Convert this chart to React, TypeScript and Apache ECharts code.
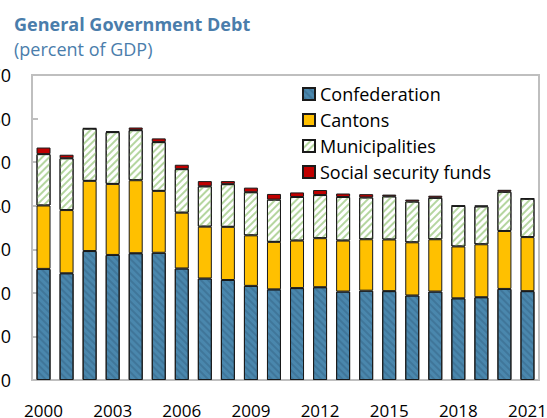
import React, { useEffect, useRef } from "react";
import * as echarts from "echarts";

const years = ["2000","2001","2002","2003","2004","2005","2006","2007","2008","2009","2010","2011","2012","2013","2014","2015","2016","2017","2018","2019","2020","2021"];
const confederation = [25.5, 24.5, 29.6, 28.7, 29.1, 29.2, 25.6, 23.3, 22.95, 21.6, 20.8, 21.1, 21.3, 20.3, 20.5, 20.4, 19.4, 20.3, 18.75, 19.0, 20.9, 20.4];
const cantons = [14.55, 14.5, 16.1, 16.3, 16.75, 14.2, 12.8, 11.9, 12.2, 11.6, 10.9, 10.9, 11.25, 11.7, 11.8, 11.85, 12.2, 12.0, 11.9, 12.15, 13.3, 12.4];
const municipalities = [11.8, 11.9, 12.0, 11.9, 11.5, 11.2, 10.0, 9.25, 9.8, 9.9, 9.7, 10.0, 9.9, 10.0, 9.6, 9.9, 9.35, 9.5, 9.3, 8.7, 9.0, 8.8];
const socialSecurity = [1.5, 0.8, 0.1, 0.2, 0.6, 0.85, 1.0, 1.2, 0.7, 1.05, 1.3, 1.05, 1.15, 0.8, 0.75, 0.4, 0.45, 0.5, 0.1, 0.2, 0.45, 0.1];

const FONT = "'Open Sans', 'Noto Sans', sans-serif";

export default function App() {
  const ref = useRef<HTMLDivElement>(null);
  useEffect(() => {
    if (!ref.current) return;
    const chart = echarts.init(ref.current, null, { renderer: "svg" });
    const border = { borderColor: "#1a1a1a", borderWidth: 1 };
    const mk = (name: string, data: number[], style: any) => ({
      name,
      type: "bar",
      stack: "debt",
      data,
      barWidth: 14,
      itemStyle: { ...border, ...style },
      emphasis: { disabled: true },
    });
    chart.setOption({
      animation: false,
      backgroundColor: "#ffffff",
      textStyle: { fontFamily: FONT },
      title: {
        text: "General Government Debt",
        subtext: "(percent of GDP)",
        left: 9,
        top: 9,
        itemGap: 5,
        textStyle: { fontFamily: FONT, fontSize: 18, fontWeight: "bold", color: "#4a7dab", lineHeight: 20 },
        subtextStyle: { fontFamily: FONT, fontSize: 18, color: "#4a7dab", lineHeight: 20 },
      },
      legend: {
        orient: "vertical",
        left: 297,
        top: 80,
        itemWidth: 12,
        itemHeight: 12,
        itemGap: 8,
        icon: "rect",
        textStyle: { fontFamily: FONT, fontSize: 18, color: "#000" },
        data: ["Confederation", "Cantons", "Municipalities", "Social security funds"],
      },
      grid: {
        left: 32,
        right: 8,
        top: 75,
        bottom: 38,
        outerBoundsMode: "none",
        containLabel: false,
        show: true,
        borderColor: "#bfbfbf",
        borderWidth: 2,
        backgroundColor: "transparent",
      },
      xAxis: {
        type: "category",
        data: years,
        axisLine: { lineStyle: { color: "#bfbfbf", width: 2 } },
        axisTick: { inside: true, interval: 2, length: 6, lineStyle: { color: "#bfbfbf", width: 2 } },
        axisLabel: { interval: 2, margin: 22, fontSize: 17, lineHeight: 16, color: "#000", fontFamily: FONT },
      },
      yAxis: {
        type: "value",
        min: 0,
        max: 70,
        interval: 10,
        splitLine: { show: false },
        axisLine: { show: true, lineStyle: { color: "#bfbfbf", width: 2 } },
        axisTick: { show: true, inside: true, length: 6, lineStyle: { color: "#bfbfbf", width: 2 } },
        axisLabel: { margin: 21, fontSize: 18, color: "#000", fontFamily: FONT },
      },
      series: [
        mk("Confederation", confederation, {
          color: "#4a87ad",
          decal: { symbol: "rect", symbolSize: 1, dashArrayX: [1, 0], dashArrayY: [2, 3], rotation: Math.PI / 4, color: "rgba(40,80,110,0.3)" },
        }),
        mk("Cantons", cantons, { color: "#ffc000" }),
        mk("Municipalities", municipalities, {
          color: "#ffffff",
          decal: { symbol: "rect", symbolSize: 1, dashArrayX: [1, 0], dashArrayY: [2, 3], rotation: -Math.PI / 4, color: "#b5d6a0" },
        }),
        mk("Social security funds", socialSecurity, { color: "#c00000" }),
      ],
    });
    return () => chart.dispose();
  }, []);
  return <div ref={ref} style={{ position: "absolute", left: 0, top: 0, width: 547, height: 418 }} />;
}
